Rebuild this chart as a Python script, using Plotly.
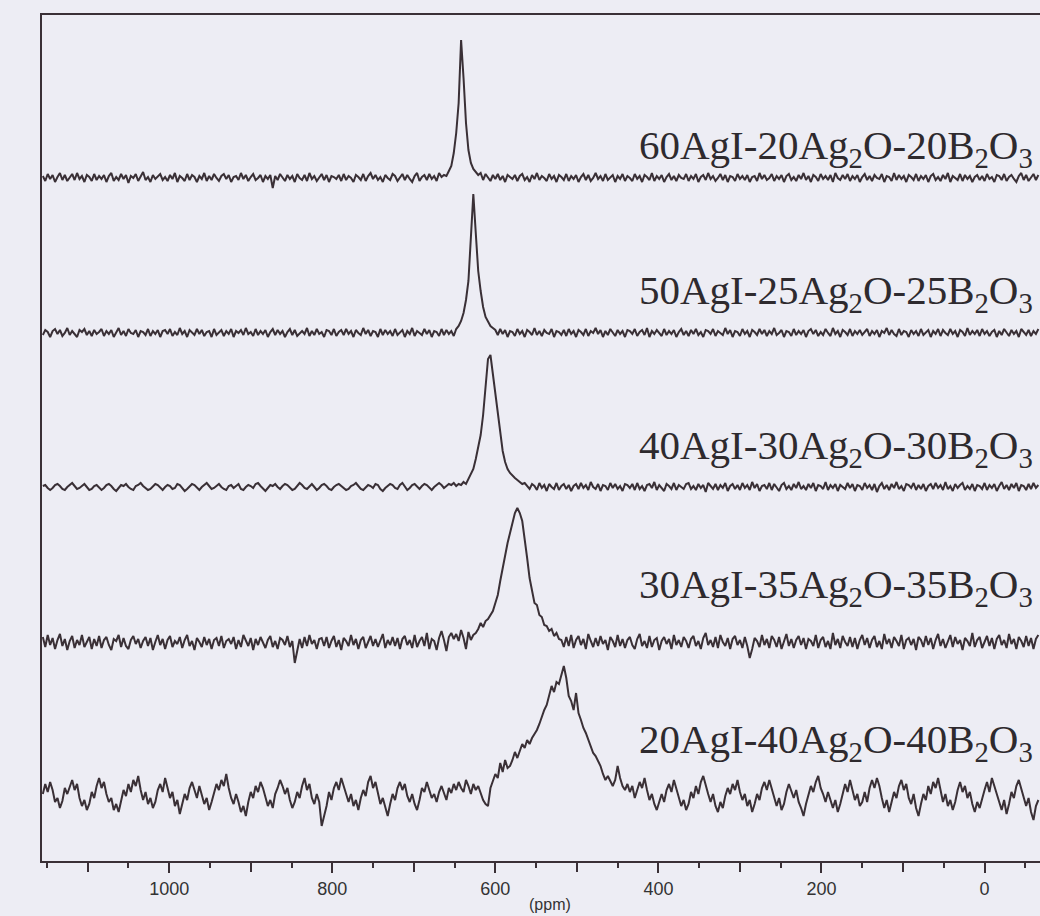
import numpy as np
import plotly.graph_objects as go

# chemical shift axis sampling (ppm), high -> low
ppm = np.arange(1155, -70, -3)

labels = [
    "60AgI-20Ag<sub>2</sub>O-20B<sub>2</sub>O<sub>3</sub>",
    "50AgI-25Ag<sub>2</sub>O-25B<sub>2</sub>O<sub>3</sub>",
    "40AgI-30Ag<sub>2</sub>O-30B<sub>2</sub>O<sub>3</sub>",
    "30AgI-35Ag<sub>2</sub>O-35B<sub>2</sub>O<sub>3</sub>",
    "20AgI-40Ag<sub>2</sub>O-40B<sub>2</sub>O<sub>3</sub>",
]

spec_60 = [
    2,-3,4,-1,3,-4,1,5,-2,3,-3,0,4,-2,5,-1,2,-4,3,1,-3,4,-2,2,
    -1,3,-4,2,5,-3,1,-2,4,-1,3,-5,2,0,4,-3,2,6,-2,1,-4,3,-1,2,
    4,-2,1,-3,3,-1,5,-4,2,0,-3,4,-2,3,1,-4,2,-1,5,-3,2,-2,4,0,
    -3,2,4,-1,3,-4,1,2,-2,5,-1,3,-3,1,4,-2,0,3,-4,2,-1,3,-10,2,
    -2,4,1,-3,3,-1,2,-4,4,0,-2,3,-3,5,-1,2,-3,1,4,-2,3,-4,2,1,
    -1,3,-3,4,-2,2,0,-4,3,1,-2,4,-3,2,5,-1,3,-2,1,-4,3,0,-2,4,
    2,-3,1,4,-2,3,-1,-4,2,5,-3,1,3,-2,4,-1,2,-3,5,1,3,2,7,12,
    25,45,75,138,100,55,28,15,9,6,3,5,-2,4,1,-3,3,-1,4,-2,2,-4,3,1,
    -1,3,-3,2,4,-2,1,-4,3,-1,5,-2,2,0,-3,4,-1,2,-4,3,1,-2,4,-3,
    2,-1,3,-4,1,4,-2,3,-3,0,5,-1,2,-3,4,-2,1,3,-4,2,-1,4,-3,2,
    0,-3,4,-1,2,-4,3,1,-2,5,-3,2,-1,3,-4,1,4,-2,2,-3,3,0,-1,4,
    -3,2,-1,4,-4,1,3,-2,5,-1,2,-3,0,4,-2,3,-4,2,1,-3,4,-1,2,-2,
    3,-4,1,2,-3,5,-1,3,-2,0,4,-3,2,-1,3,-4,2,4,-2,1,-3,3,-1,5,
    -2,2,-4,3,1,-3,4,-1,2,-2,3,-4,5,0,-2,3,-1,4,-3,2,-1,3,-4,1,
    4,-2,2,-3,3,0,-1,4,-4,2,1,-3,5,-2,3,-1,2,-4,3,1,-2,4,-3,2,
    -1,3,-4,2,4,-2,1,-3,3,-1,5,-4,2,0,-2,4,-3,3,-1,2,-4,1,3,-2,
    2,-3,4,-1,1,-4,3,2,-2,4,-3,1,3,-1,-4,2,5,-2,3,-3,1,4,-2,3,
]

spec_50 = [
    -2,3,1,-4,2,4,-1,3,-3,0,5,-2,2,-1,-4,3,1,4,-2,2,-3,3,-1,1,
    4,-3,2,-1,3,-4,1,5,-2,2,-3,4,0,-1,3,-4,2,1,-2,4,-3,2,-1,3,
    -4,2,3,-1,4,-3,1,-2,5,-1,2,-4,3,0,-2,4,-1,3,-3,1,2,-4,4,-2,
    1,3,-3,2,-1,4,-4,2,0,3,-2,5,-1,1,-3,4,-2,2,-1,3,-4,1,4,-2,
    3,-1,2,-4,1,4,-2,3,-3,0,2,-1,5,-3,2,-2,4,-1,1,-4,3,2,-2,4,
    -3,1,3,-2,4,-1,2,-4,3,0,-2,5,-1,3,-3,2,1,-4,4,-2,3,-1,2,-3,
    4,-2,1,3,-4,2,-1,5,-3,2,0,-2,4,-1,3,-4,2,1,-3,4,-2,3,-1,2,
    -3,4,7,12,20,33,52,95,139,100,62,42,26,16,11,7,5,3,-2,4,-1,3,-4,2,
    1,-3,4,-1,2,-4,3,1,-2,5,-2,2,-3,3,0,-1,4,-4,2,1,-2,3,-3,4,
    -1,2,-4,3,1,-2,4,-3,2,0,5,-1,3,-4,2,-2,4,1,-3,3,-1,2,-4,3,
    2,-1,4,-3,1,3,-2,5,-4,2,-1,3,0,-3,4,-2,2,-1,3,-4,1,4,-2,2,
    -3,3,-1,4,-2,1,-4,3,2,-1,4,-3,2,0,-2,5,-1,3,-4,2,1,-3,4,-1,
    2,-4,3,1,-2,4,-1,3,-3,2,-1,5,-2,0,3,-4,2,1,-3,4,-2,2,-1,3,
    -4,2,4,-1,3,-3,1,-2,4,0,-3,5,-1,2,-4,3,1,-2,4,-3,2,-1,3,-2,
    1,4,-3,2,-1,3,-4,2,0,5,-2,3,-1,-3,4,-2,2,1,-4,3,-1,2,-3,4,
    -2,1,3,-4,2,-1,4,-3,3,0,-2,4,-1,2,-4,3,1,-3,5,-2,2,-1,3,-3,
    4,-1,2,-3,1,3,-4,2,-2,4,0,-3,3,-1,2,-4,4,1,-2,3,-3,2,-1,4,
]

spec_40 = [
    1,2,-1,-3,-1,2,3,1,-2,-3,0,2,4,1,-2,-1,1,3,0,-3,-2,1,2,-1,
    -3,-1,2,3,1,-2,-4,-1,2,1,3,0,-2,-3,1,2,4,1,-1,-3,-2,1,3,2,
    -1,-3,0,2,1,-2,-1,3,2,-1,-4,-2,1,3,2,-1,-3,0,2,4,1,-2,-1,1,
    3,0,-2,-3,1,2,-1,1,3,-2,-3,0,2,1,-1,3,4,1,-2,-4,-1,2,1,3,
    0,-2,1,3,2,-1,-3,-2,1,4,2,-1,-2,1,3,0,-3,-1,2,3,1,-2,-3,0,
    2,3,1,-1,-3,-2,1,2,4,1,-2,-3,0,2,1,-1,3,2,-2,-4,-1,1,3,2,
    -1,-2,2,4,1,-3,-1,2,3,0,-2,1,3,2,-1,-3,0,2,4,2,-1,1,3,2,
    4,1,3,2,5,3,8,12,18,28,40,52,72,100,128,132,112,92,72,52,36,25,18,14,
    11,9,7,5,3,4,1,-2,3,1,-3,4,-1,2,-4,3,0,-2,4,-3,1,3,-2,2,
    -4,1,3,-2,4,-1,2,-3,5,0,-2,3,-4,2,1,-3,4,-1,3,-2,1,-4,3,2,
    -1,3,-3,4,-2,1,-4,2,3,-1,5,-3,2,-1,-4,3,1,-2,4,-3,2,0,-2,3,
    4,-2,1,-3,3,-1,2,-5,4,1,-2,3,-3,2,-1,4,-4,1,3,-2,2,-3,4,-1,
    2,-3,5,-1,3,-4,1,2,-2,4,-3,3,-1,-4,2,4,-2,1,-3,3,-1,5,-2,1,
    -3,3,-1,4,-4,2,1,-2,5,-3,2,-1,3,-4,2,0,-2,4,-1,3,-4,2,1,-3,
    4,-1,2,-3,3,-5,1,4,-2,2,-3,3,-1,5,-2,1,-4,3,2,-1,4,-3,2,-2,
    3,-4,1,3,-2,4,-1,2,-3,5,-2,1,-4,3,-1,2,4,-3,1,-2,3,-4,2,1,
    -2,4,-3,2,-1,3,-4,1,5,-2,2,-3,3,-1,4,-4,2,1,-3,3,-2,4,-1,2,
]

spec_30 = [
    6,-4,8,-2,5,-6,3,9,-3,4,-7,2,7,-5,3,-2,8,-4,1,6,-6,4,-3,7,
    -5,3,6,-2,-7,4,2,8,-4,5,-3,-6,3,7,-1,4,-5,2,6,-3,5,-7,1,8,
    -2,4,-6,3,7,-4,2,-1,6,-5,3,8,-3,2,-7,5,1,-4,6,-2,4,-6,3,5,
    -3,7,-5,2,4,-1,6,-6,3,-4,8,2,-3,5,-7,4,-2,6,1,-5,3,7,-4,2,
    -6,5,3,-2,7,-4,2,-20,-8,4,-5,6,-3,8,-1,3,-6,4,5,-3,6,-5,2,7,
    -4,3,-7,5,2,-3,8,-2,4,-6,3,6,-5,1,7,-3,4,-4,2,9,-5,3,-2,6,
    -3,5,-6,4,7,-2,3,-5,8,-4,2,6,-3,10,-6,4,2,-7,5,12,3,-8,6,10,
    4,9,2,13,5,-6,11,3,8,10,14,20,16,22,24,28,32,40,48,62,76,90,100,110,
    120,130,135,130,122,105,85,65,52,40,38,28,26,18,17,12,14,7,10,4,3,-4,6,-3,
    8,-5,3,7,-2,4,-6,9,2,-4,5,-3,7,-1,3,-7,6,2,-4,8,-3,4,-5,3,
    6,-2,-6,4,9,-3,2,-5,7,-4,3,5,-7,2,6,-1,4,-6,8,-2,3,-4,6,2,
    -5,4,7,-3,2,-6,5,10,-2,3,-4,6,-5,8,1,-3,5,-6,4,7,-2,3,-5,6,
    -3,-15,-6,5,2,-4,8,-2,4,-5,7,3,-4,6,-6,2,9,-3,4,-5,3,7,-2,5,
    -6,4,2,-3,8,-5,3,6,-4,2,-6,10,-2,4,-5,7,1,-3,6,-4,5,-6,3,8,
    -2,5,-5,3,7,-4,2,-6,9,-1,4,-5,6,2,-3,8,-6,3,5,-2,4,-7,6,3,
    -4,7,-2,5,-6,3,9,-3,4,-5,2,8,-4,6,-1,3,-7,5,2,-3,10,-4,3,6,
    -5,2,7,-3,5,-6,4,8,-2,3,-5,9,-1,4,-6,6,2,-4,7,-3,5,-6,4,8,
]

spec_20 = [
    2,12,4,14,6,-6,-2,-12,-5,8,2,10,16,6,12,-2,-10,-4,-14,-8,4,-2,10,18,
    8,14,2,-6,-2,-14,-8,-16,-4,6,0,12,4,16,10,20,6,-4,4,-8,-2,-12,-6,6,
    12,4,18,8,-2,4,-10,-4,-18,-8,2,-4,8,14,6,-2,10,2,-8,-2,-14,-6,4,12,
    6,16,10,22,8,-2,-8,2,-6,-16,-10,-20,-6,4,-2,10,4,14,8,-2,-10,-4,-12,2,
    8,16,10,2,8,-4,-12,-6,4,-2,10,18,6,12,-2,-8,2,-6,-30,-20,-10,4,-4,8,
    14,6,18,10,2,-6,2,-10,-4,-14,-2,6,0,14,20,8,14,2,-8,-2,-12,-20,-8,2,
    -4,8,14,6,12,0,-6,2,-8,-14,-4,8,4,14,6,-2,2,-6,4,10,3,-4,8,3,
    12,6,14,8,4,16,10,2,12,6,10,2,-4,-8,-10,8,16,22,18,33,24,36,28,30,
    36,44,38,46,52,48,56,52,58,62,66,72,80,86,91,100,110,104,114,112,122,130,118,100,
    95,86,103,83,76,68,63,56,50,43,40,34,30,22,16,20,14,10,16,30,18,10,6,12,
    4,10,-2,6,14,8,18,6,-4,2,-8,-14,-6,2,-6,6,12,4,16,8,-2,-10,-4,-14,
    -8,4,-2,10,2,14,20,10,2,-6,2,-10,-16,-6,-12,0,8,2,12,6,16,4,-4,2,
    -10,-4,-16,-8,2,-4,8,14,6,16,8,-2,-10,-2,-14,-8,4,12,4,-2,6,-6,-12,-20,
    -8,0,10,4,14,20,8,2,-6,4,-4,-12,-4,-16,-8,2,12,4,16,6,-4,2,-10,-6,
    4,-6,8,16,8,18,10,-2,-12,-4,-16,-6,4,-2,10,16,6,12,-2,-8,2,-12,-20,-8,
    2,-4,10,2,14,8,18,6,-6,2,-10,-4,-14,-6,6,14,4,10,-2,4,-8,-16,-6,-12,
    -2,6,14,4,18,10,2,-6,-14,-4,-18,-8,4,-2,10,16,8,-2,-10,-2,-16,-24,-10,-4,
]

spectra = [spec_60, spec_50, spec_40, spec_30, spec_20]

# vertical stacking offsets (intensity units) and label positions
offsets = [683, 528, 374, 218, 65]
label_y = [713, 568, 413, 274, 119]

# axis ticks
major_labeled = [1000, 800, 600, 400, 200, 0]
major_unlabeled = [1100, 900, 700, 500, 300, 100]
minor_ticks = [1150, 1050, 950, 850, 750, 650, 550, 450, 350, 250, 150, 50, -50]

LINE = "#3a3036"
BG = "#ededf4"

fig = go.Figure()
for vals, off in zip(spectra, offsets):
    fig.add_trace(go.Scatter(
        x=ppm, y=np.array(vals) + off, mode="lines",
        line=dict(color=LINE, width=2), showlegend=False, hoverinfo="skip",
    ))
# helper trace so the overlay axis (long unlabeled ticks) is drawn
fig.add_trace(go.Scatter(x=[], y=[], xaxis="x2", showlegend=False, hoverinfo="skip"))

for lab, ly in zip(labels, label_y):
    fig.add_annotation(
        x=0.5965, xref="paper", y=ly, yref="y", text=lab, showarrow=False,
        xanchor="left", yanchor="middle",
        font=dict(family="Liberation Serif, Times New Roman, serif", size=41, color="#2e2a2e"),
    )

fig.add_annotation(
    x=0.509, xref="paper", y=-0.052, yref="paper", text="(ppm)", showarrow=False,
    xanchor="center", yanchor="middle",
    font=dict(family="Liberation Sans, Arial, sans-serif", size=16, color="#333"),
)

fig.update_layout(
    xaxis=dict(
        range=[1156, -68], showgrid=False, zeroline=False,
        showline=True, linecolor=LINE, linewidth=2, mirror=True,
        ticks="outside", ticklen=10, tickwidth=1.5, tickcolor=LINE,
        tickmode="array", tickvals=major_labeled, ticktext=[str(v) for v in major_labeled],
        minor=dict(tickmode="array", tickvals=minor_ticks, ticks="outside", ticklen=5,
                   tickwidth=1.5, tickcolor=LINE, showgrid=False),
        tickfont=dict(family="Liberation Sans, Arial, sans-serif", size=18, color="#333"),
    ),
    xaxis2=dict(
        range=[1156, -68], overlaying="x", anchor="y", side="bottom",
        showgrid=False, zeroline=False, showline=False, showticklabels=False,
        ticks="outside", ticklen=10, tickwidth=1.5, tickcolor=LINE,
        tickmode="array", tickvals=major_unlabeled,
    ),
    yaxis=dict(
        range=[0, 846], showgrid=False, zeroline=False, showticklabels=False,
        showline=True, linecolor=LINE, linewidth=2, ticks="",
    ),
    width=1040, height=916,
    margin=dict(l=42, r=0, t=15, b=55),
    paper_bgcolor=BG, plot_bgcolor=BG,
)
fig.write_html(
    "out.html",
    config={"displayModeBar": False},
    post_script="document.body.style.margin='0';document.body.style.overflow='hidden';",
)
